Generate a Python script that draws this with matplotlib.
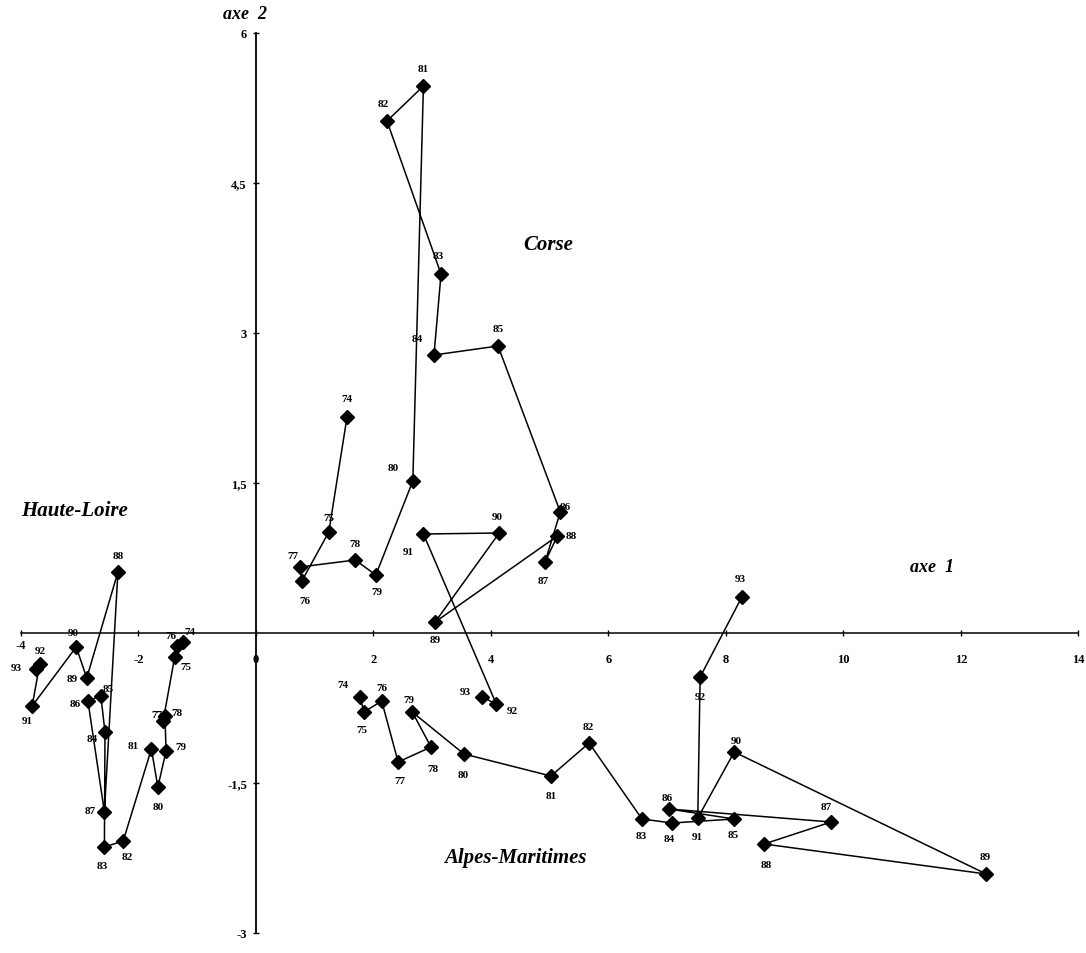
import matplotlib.pyplot as plt
from matplotlib.ticker import FixedLocator, FuncFormatter

years = [str(y) for y in range(74, 94)]

# Corse trajectory 74..93
corse_x = [1.55, 1.24, 0.78, 0.75, 1.69, 2.04, 2.67, 2.85, 2.23, 3.15,
           3.03, 4.12, 5.18, 4.92, 5.13, 3.05, 4.14, 2.85, 4.09, 3.85]
corse_y = [2.16, 1.01, 0.52, 0.66, 0.73, 0.58, 1.52, 5.47, 5.12, 3.59,
           2.78, 2.87, 1.21, 0.71, 0.97, 0.11, 1.00, 0.99, -0.71, -0.64]

# Alpes-Maritimes trajectory 74..93
alpes_x = [1.77, 1.84, 2.14, 2.42, 2.98, 2.66, 3.54, 5.02, 5.67, 6.57,
           7.08, 8.14, 7.03, 9.79, 8.65, 12.43, 8.14, 7.52, 7.56, 8.27]
alpes_y = [-0.64, -0.79, -0.68, -1.29, -1.14, -0.79, -1.21, -1.43, -1.10, -1.86,
           -1.90, -1.86, -1.76, -1.89, -2.11, -2.41, -1.19, -1.85, -0.44, 0.36]

# Haute-Loire trajectory 74..93
hl_x = [-1.24, -1.38, -1.35, -1.58, -1.55, -1.53, -1.67, -1.78, -2.26, -2.58,
        -2.57, -2.64, -2.86, -2.58, -2.35, -2.88, -3.06, -3.81, -3.68, -3.74]
hl_y = [-0.09, -0.24, -0.13, -0.88, -0.83, -1.18, -1.54, -1.16, -2.08, -2.14,
        -0.99, -0.63, -0.68, -1.79, 0.61, -0.45, -0.14, -0.73, -0.31, -0.36]

x_ticks = [-4, -2, 0, 2, 4, 6, 8, 10, 12, 14]
y_ticks = [-3, -1.5, 1.5, 3, 4.5, 6]

# label offsets in pixels (dx, dy), one per year
corse_off = [(0, 18), (0, 14), (3, -20), (-7, 11), (0, 16), (1, -17), (-20, 13),
             (0, 17), (-4, 17), (-3, 18), (-17, 16), (0, 17), (5, 5), (-2, -19),
             (14, 0), (0, -18), (-2, 16), (-15, -18), (16, -7), (-17, 5)]
alpes_off = [(-17, 12), (-2, -18), (0, 13), (2, -19), (2, -22), (-3, 12), (-1, -21),
             (0, -20), (-1, 16), (-1, -17), (-3, -16), (-1, -16), (-2, 11), (-5, 15),
             (2, -21), (-1, 17), (2, 11), (-1, -19), (0, -20), (-2, 18)]
hl_off = [(7, 10), (11, -10), (-6, 10), (-6, 6), (12, 3), (15, 4), (0, -20),
          (-18, 3), (4, -16), (-2, -19), (-13, -7), (7, 7), (-13, -3), (-14, 1),
          (0, 16), (-15, -1), (-3, 14), (-5, -15), (1, 13), (-20, 1)]

serif = 'Liberation Serif'

fig = plt.figure(figsize=(10.86, 9.54), dpi=100)
ax = fig.add_axes([0, 0, 1, 1])
ax.set_xlim(-4.357, 14.128)
ax.set_ylim(-3.2, 6.34)

for xs, ys, offs in [(corse_x, corse_y, corse_off),
                     (alpes_x, alpes_y, alpes_off),
                     (hl_x, hl_y, hl_off)]:
    ax.plot(xs, ys, color='black', lw=1.1, marker='D', markersize=7.5,
            markerfacecolor='black', markeredgecolor='black', zorder=3)
    for x, y, lab, (dx, dy) in zip(xs, ys, years, offs):
        ax.annotate(lab, (x, y), xytext=(dx, dy), textcoords='offset pixels',
                    ha='center', va='center', fontsize=8, fontweight='bold',
                    family=serif)

# axes through the origin
for side in ['top', 'right']:
    ax.spines[side].set_visible(False)
ax.spines['left'].set_position(('data', 0))
ax.spines['bottom'].set_position(('data', 0))
ax.spines['left'].set_bounds(-3, 6)
ax.spines['bottom'].set_bounds(-4, 14)
ax.spines['left'].set_linewidth(1.3)
ax.spines['bottom'].set_linewidth(1.1)

ax.xaxis.set_major_locator(FixedLocator(x_ticks))
ax.yaxis.set_major_locator(FixedLocator(y_ticks))
ax.xaxis.set_major_formatter(FuncFormatter(lambda v, p: f'{v:g}'))
ax.yaxis.set_major_formatter(FuncFormatter(lambda v, p: f'{v:g}'.replace('.', ',')))
ax.tick_params(axis='x', direction='inout', length=5, width=1, pad=12)
ax.tick_params(axis='y', direction='inout', length=5, width=1, pad=4)
# the leftmost label sits closer to the axis in the original
ax.xaxis.get_major_ticks()[0].set_pad(2)
for t in ax.get_xticklabels() + ax.get_yticklabels():
    t.set_family(serif)
    t.set_fontweight('bold')
    t.set_fontsize(9)

txt = dict(family=serif, style='italic', fontweight='bold', ha='center', va='center')
ax.text(-0.19, 6.19, 'axe  2', fontsize=13, **txt)
ax.text(11.5, 0.66, 'axe  1', fontsize=13, **txt)
ax.text(4.97, 3.89, 'Corse', fontsize=15, **txt)
ax.text(-3.08, 1.23, 'Haute-Loire', fontsize=15, **txt)
ax.text(4.41, -2.24, 'Alpes-Maritimes', fontsize=15, **txt)

fig.savefig('out.png', dpi=100, facecolor='white')
